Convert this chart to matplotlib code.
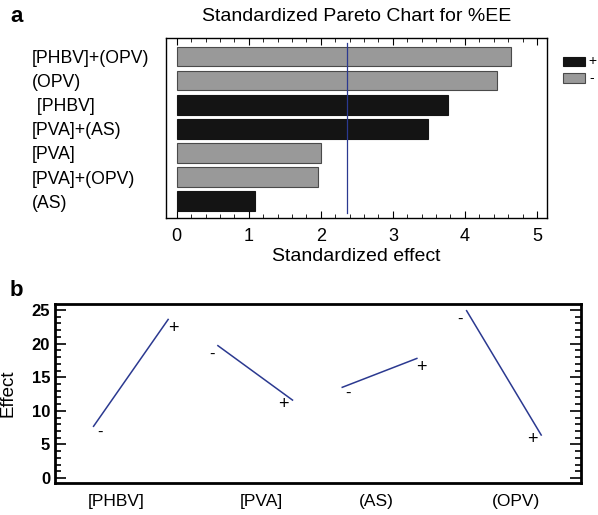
import matplotlib
matplotlib.use("Agg")
import matplotlib.pyplot as plt
from matplotlib.patches import Rectangle
from matplotlib.ticker import MultipleLocator

plt.rcParams['font.family'] = ['Liberation Sans', 'DejaVu Sans']

# Panel a data
terms = ["[PHBV]+(OPV)", "(OPV)", " [PHBV]", "[PVA]+(AS)", "[PVA]", "[PVA]+(OPV)", "(AS)"]
std_effects = [4.64, 4.44, 3.77, 3.49, 2.00, 1.96, 1.08]
signs = ["-", "-", "+", "+", "-", "-", "+"]
critical_value = 2.37

# Panel b data
factors = ["[PHBV]", "[PVA]", "(AS)", "(OPV)"]
effect_low = [7.7, 19.7, 13.5, 24.9]
effect_high = [23.6, 11.6, 17.8, 6.4]

fig = plt.figure(figsize=(5.98, 5.15), dpi=100)

# ---------- Panel a ----------
axa = fig.add_axes([166/598, 1-218/515, (547-166)/598, (218-38)/515])
ypos = list(range(len(terms)))
colors = ['#141414' if s == '+' else '#999999' for s in signs]
edges = ['#141414' if s == '+' else '#4a4a4a' for s in signs]
axa.barh(ypos, std_effects, height=0.81, color=colors, edgecolor=edges, linewidth=0.8)
axa.axvline(critical_value, ymin=0.03, ymax=0.975, color='#2b3990', linewidth=0.9)
axa.set_xlim(-0.15, 5.14)
axa.set_ylim(6.7, -0.77)
axa.set_yticks(ypos)
axa.set_yticklabels(terms, fontsize=12.7)
axa.tick_params(axis='y', length=0, pad=96.5)
for lab in axa.get_yticklabels():
    lab.set_horizontalalignment('left')
    lab.set_verticalalignment('center_baseline')
axa.xaxis.set_major_locator(MultipleLocator(1))
axa.xaxis.set_minor_locator(MultipleLocator(0.2))
axa.tick_params(axis='x', which='both', direction='in', top=True, bottom=True, labelsize=13, pad=7)
axa.tick_params(axis='x', which='major', length=5)
axa.tick_params(axis='x', which='minor', length=3)
axa.set_xlabel("Standardized effect", fontsize=14, labelpad=2)
axa.set_title("Standardized Pareto Chart for %EE", fontsize=14, pad=12)
for sp in axa.spines.values():
    sp.set_linewidth(1.0)

# legend
fig.add_artist(Rectangle((563/598, 1-66/515), 22/598, 9/515, transform=fig.transFigure,
                         facecolor='#141414', edgecolor='#141414', linewidth=0.8))
fig.add_artist(Rectangle((563/598, 1-83/515), 22/598, 10/515, transform=fig.transFigure,
                         facecolor='#999999', edgecolor='#4a4a4a', linewidth=0.8))
fig.text(588/598, 1-61.5/515, "+", fontsize=10, va='center', ha='left')
fig.text(589/598, 1-78/515, "-", fontsize=10, va='center', ha='left')

fig.text(10/598, 1-16/515, "a", fontsize=16, fontweight='bold', va='center', ha='left')

# ---------- Panel b ----------
axb = fig.add_axes([55/598, 1-483/515, (581-55)/598, (483-304)/515])
seg_w = 0.6
for i in range(len(factors)):
    lo, hi = effect_low[i], effect_high[i]
    axb.plot([i, i + seg_w], [lo, hi], color='#2b3990', linewidth=1.1)
    if hi > lo:
        m_off = (0.05, -0.9)
        p_off = (0.04, -1.4)
    else:
        m_off = (-0.05, -1.3)
        p_off = (-0.07, -0.65)
    axb.text(i + m_off[0], lo + m_off[1], "-", fontsize=12, ha='center', va='center')
    axb.text(i + seg_w + p_off[0], hi + p_off[1], "+", fontsize=13, ha='center', va='center')
axb.set_xlim(-0.31, 3.92)
axb.set_ylim(-0.74, 25.9)
axb.set_xticks([0.185, 1.35, 2.27, 3.40])
axb.set_xticklabels(factors, fontsize=12.5)
axb.tick_params(axis='x', length=0, pad=8)
axb.yaxis.set_major_locator(MultipleLocator(5))
axb.yaxis.set_minor_locator(MultipleLocator(1))
axb.tick_params(axis='y', which='both', direction='in', left=True, right=True, labelsize=12, width=1.2)
axb.tick_params(axis='y', which='major', length=8)
axb.tick_params(axis='y', which='minor', length=4)
for lab in axb.get_yticklabels():
    lab.set_fontweight('bold')
axb.set_ylabel("Effect", fontsize=13.5, labelpad=11)
for sp in axb.spines.values():
    sp.set_linewidth(2.0)

fig.text(10/598, 1-290/515, "b", fontsize=16, fontweight='bold', va='center', ha='left')

fig.savefig("out.png", dpi=100)
